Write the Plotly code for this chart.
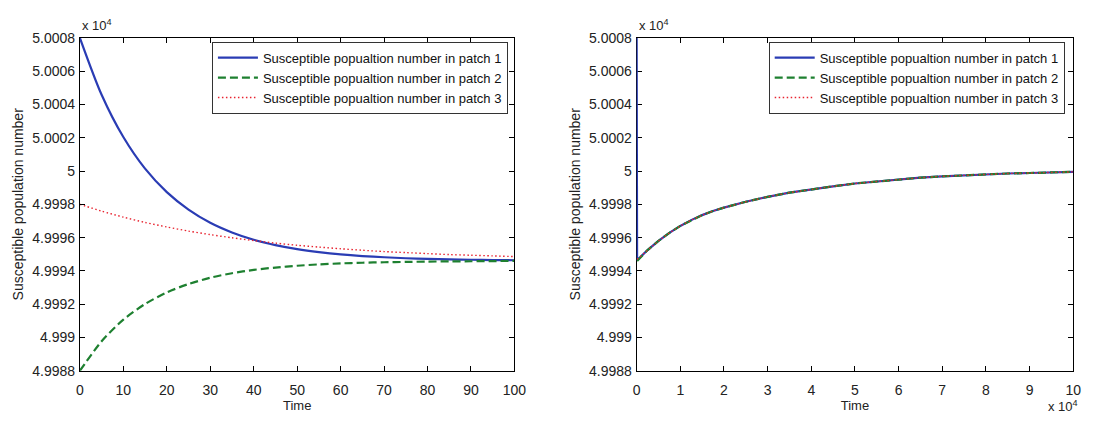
import plotly.graph_objects as go

# ---------------- data ----------------
t_left = [0, 5, 10, 15, 20, 25, 30, 35, 40, 45, 50, 55, 60, 65, 70, 75, 80, 85, 90, 95, 100]
s1_left = [50008.0, 50004.58, 50002.04, 50000.14, 49998.73, 49997.68, 49996.89, 49996.31, 49995.87,
           49995.55, 49995.31, 49995.13, 49994.99, 49994.89, 49994.82, 49994.76, 49994.72, 49994.69,
           49994.67, 49994.65, 49994.64]
s2_left = [49988.0, 49989.77, 49991.07, 49992.01, 49992.71, 49993.21, 49993.59, 49993.86, 49994.06,
           49994.20, 49994.31, 49994.39, 49994.45, 49994.49, 49994.52, 49994.54, 49994.56, 49994.57,
           49994.58, 49994.59, 49994.60]
s3_left = [49998.0, 49997.59, 49997.23, 49996.91, 49996.64, 49996.39, 49996.18, 49995.99, 49995.82,
           49995.67, 49995.54, 49995.43, 49995.33, 49995.24, 49995.16, 49995.10, 49995.04, 49994.98,
           49994.94, 49994.90, 49994.86]

# right panel (long run); only patch 1's initial jump is visible at t = 0
t_right_1 = [0, 100, 2500, 5000, 7500, 10000, 12500, 15000, 17500, 20000, 25000, 30000, 35000,
             40000, 45000, 50000, 55000, 60000, 65000, 70000, 75000, 80000, 85000, 90000, 95000, 100000]
s1_right = [50008.0, 49994.64, 49995.25, 49995.8, 49996.28, 49996.7, 49997.05, 49997.35, 49997.6,
            49997.8, 49998.15, 49998.45, 49998.7, 49998.9, 49999.08, 49999.25, 49999.38, 49999.5,
            49999.6, 49999.68, 49999.75, 49999.8, 49999.85, 49999.88, 49999.92, 49999.95]
t_right_23 = [100, 2500, 5000, 7500, 10000, 12500, 15000, 17500, 20000, 25000, 30000, 35000,
              40000, 45000, 50000, 55000, 60000, 65000, 70000, 75000, 80000, 85000, 90000, 95000, 100000]
s2_right = [49994.60, 49995.25, 49995.8, 49996.28, 49996.7, 49997.05, 49997.35, 49997.6,
            49997.8, 49998.15, 49998.45, 49998.7, 49998.9, 49999.08, 49999.25, 49999.38, 49999.5,
            49999.6, 49999.68, 49999.75, 49999.8, 49999.85, 49999.88, 49999.92, 49999.95]
s3_right = [49994.70, 49995.25, 49995.8, 49996.28, 49996.7, 49997.05, 49997.35, 49997.6,
            49997.8, 49998.15, 49998.45, 49998.7, 49998.9, 49999.08, 49999.25, 49999.38, 49999.5,
            49999.6, 49999.68, 49999.75, 49999.8, 49999.85, 49999.88, 49999.92, 49999.95]

series_names = ["Susceptible popualtion number in patch 1",
                "Susceptible popualtion number in patch 2",
                "Susceptible popualtion number in patch 3"]

y_tickvals = [49988, 49990, 49992, 49994, 49996, 49998, 50000, 50002, 50004, 50006, 50008]
y_ticktext = ["4.9988", "4.999", "4.9992", "4.9994", "4.9996", "4.9998", "5", "5.0002", "5.0004", "5.0006", "5.0008"]
xl_tickvals = [0, 10, 20, 30, 40, 50, 60, 70, 80, 90, 100]
xr_tickvals = [0, 10000, 20000, 30000, 40000, 50000, 60000, 70000, 80000, 90000, 100000]
xr_ticktext = ["0", "1", "2", "3", "4", "5", "6", "7", "8", "9", "10"]

# ---------------- styles ----------------
FONT = "Arial, Liberation Sans, sans-serif"
TXT = "#222222"
BLUE = "#2a3cb4"
GREEN = "#1e8030"
RED = "#e8232f"
styles = [dict(color=BLUE, width=2.2, dash="solid"),
          dict(color=GREEN, width=2.2, dash="8px,4px"),
          dict(color=RED, width=1.4, dash="1.5px,2.5px")]

fig = go.Figure()

for name, ys, st in zip(series_names, [s1_left, s2_left, s3_left], styles):
    fig.add_trace(go.Scatter(x=t_left, y=ys, mode="lines", name=name,
                             line=dict(shape="spline", smoothing=0.8, **st),
                             xaxis="x", yaxis="y", legend="legend"))

right_x = [t_right_1, t_right_23, t_right_23]
for name, xs, ys, st in zip(series_names, right_x, [s1_right, s2_right, s3_right], styles):
    fig.add_trace(go.Scatter(x=xs, y=ys, mode="lines", name=name,
                             line=dict(**st),
                             xaxis="x2", yaxis="y2", legend="legend2"))

W, H = 1099, 424
ydom = [1 - 377 / H, 1 - 31 / H]

axis_common = dict(showline=True, linecolor="black", linewidth=1, mirror="ticks",
                   ticks="inside", ticklen=5, tickcolor="black", tickwidth=1,
                   showgrid=False, zeroline=False,
                   tickfont=dict(family=FONT, size=14, color=TXT))

legend_common = dict(bgcolor="white", bordercolor="#333333", borderwidth=1,
                     font=dict(family=FONT, size=13, color="#111111"),
                     xanchor="left", yanchor="top", yref="paper", xref="paper",
                     tracegroupgap=0, itemwidth=40)

xtitle = dict(text="Time", font=dict(family=FONT, size=13, color=TXT), standoff=2)
ytitle = dict(text="Susceptible population number", font=dict(family=FONT, size=14, color=TXT), standoff=5)

fig.update_layout(
    width=W, height=H,
    margin=dict(l=0, r=0, t=0, b=0),
    paper_bgcolor="white", plot_bgcolor="white",
    font=dict(family=FONT, size=13, color=TXT),
    xaxis=dict(domain=[77 / W, 518 / W], range=[0, 100], tickvals=xl_tickvals,
               title=xtitle, anchor="y", ticklabelstandoff=6, **axis_common),
    yaxis=dict(domain=ydom, range=[49988, 50008], tickvals=y_tickvals, ticktext=y_ticktext,
               title=ytitle, anchor="x", ticklabelstandoff=1, **axis_common),
    xaxis2=dict(domain=[642 / W, 1085 / W], range=[0, 100000], tickvals=xr_tickvals, ticktext=xr_ticktext,
                title=xtitle, anchor="y2", ticklabelstandoff=6, **axis_common),
    yaxis2=dict(domain=ydom, range=[49988, 50008], tickvals=y_tickvals, ticktext=y_ticktext,
                title=ytitle, anchor="x2", ticklabelstandoff=1, layer="below traces", **axis_common),
    legend=dict(x=211 / W, y=1 - 35 / H, **legend_common),
    legend2=dict(x=776 / W, y=1 - 35 / H, **legend_common),
    annotations=[
        dict(text="x 10<sup>4</sup>", x=77 / W, y=1 - 18 / H, xref="paper", yref="paper",
             xanchor="left", yanchor="middle", showarrow=False,
             font=dict(family=FONT, size=13, color=TXT)),
        dict(text="x 10<sup>4</sup>", x=642 / W, y=1 - 18 / H, xref="paper", yref="paper",
             xanchor="left", yanchor="middle", showarrow=False,
             font=dict(family=FONT, size=13, color=TXT)),
        dict(text="x 10<sup>4</sup>", x=1092 / W, y=0, xref="paper", yref="paper",
             xanchor="right", yanchor="bottom", showarrow=False,
             font=dict(family=FONT, size=13, color=TXT)),
    ],
)

fig.write_html("out.html")
